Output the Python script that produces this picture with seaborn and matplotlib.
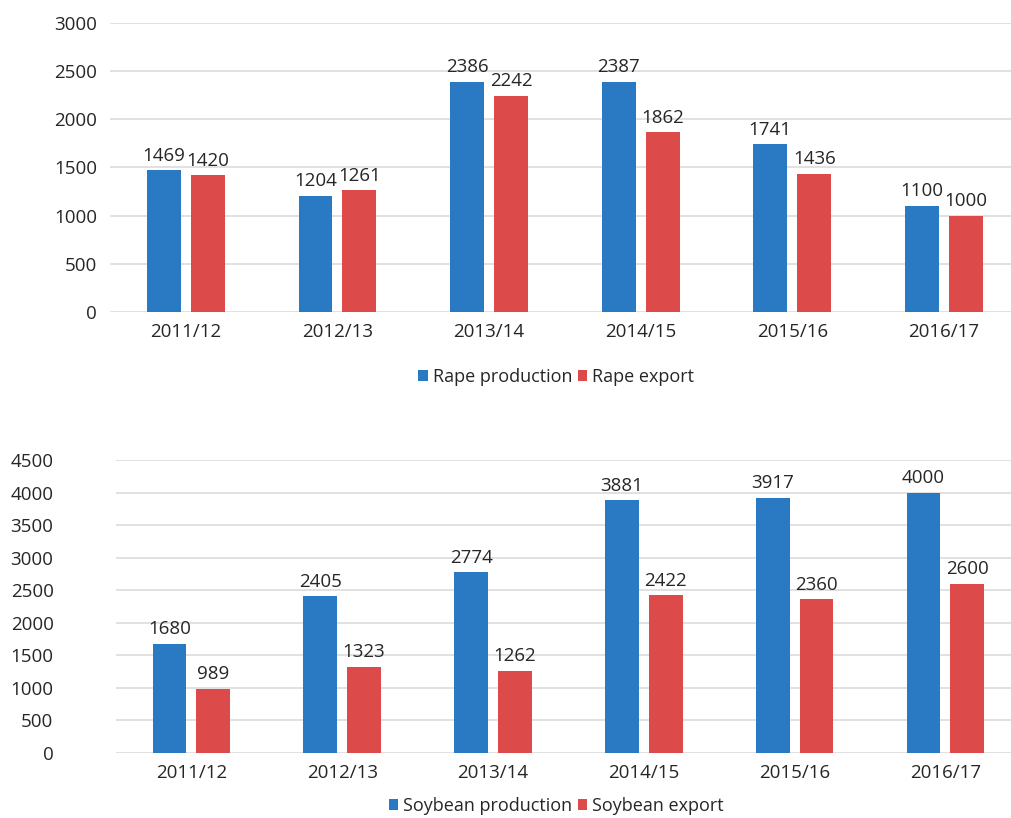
import numpy as np
import pandas as pd
import matplotlib
matplotlib.use("Agg")
import matplotlib.pyplot as plt
import seaborn as sns

# Marketing years shared by both panels
years = ["2011/12", "2012/13", "2013/14", "2014/15", "2015/16", "2016/17"]

# Rapeseed (thousand tonnes)
rape_production = [1469, 1204, 2386, 2387, 1741, 1100]
rape_export = [1420, 1261, 2242, 1862, 1436, 1000]

# Soybean (thousand tonnes)
soy_production = [1680, 2405, 2774, 3881, 3917, 4000]
soy_export = [989, 1323, 1262, 2422, 2360, 2600]

BLUE = "#2a79c3"
RED = "#dd4a4a"
TEXT = "#262626"
GRID = "#d9d9d9"
FS = 13.5

sns.set_theme(style="white")
plt.rcParams["font.family"] = ["Open Sans", "DejaVu Sans"]
plt.rcParams["font.size"] = FS


def long_frame(prod, exp, prod_name, exp_name):
    return pd.DataFrame({
        "year": years * 2,
        "value": list(prod) + list(exp),
        "series": [prod_name] * len(years) + [exp_name] * len(years),
    })


def draw_panel(ax, df, names, ymax, step, xmax, ytick_pad, legend_y):
    sns.barplot(data=df, x="year", y="value", hue="series", order=years,
                hue_order=names, palette={names[0]: BLUE, names[1]: RED},
                width=0.58, gap=0.23, saturation=1, linewidth=0, ax=ax)
    for cont in ax.containers:
        ax.bar_label(cont, fmt="%d", padding=4, fontsize=FS, color=TEXT)
    ax.set_ylim(0, ymax)
    ax.set_xlim(-0.5, xmax)
    ax.set_yticks(np.arange(0, ymax + 1, step))
    ax.yaxis.grid(True, color=GRID, linewidth=1.1)
    ax.set_axisbelow(True)
    for s in ax.spines.values():
        s.set_visible(False)
    ax.tick_params(axis="y", length=0, pad=ytick_pad, labelsize=FS, labelcolor=TEXT)
    ax.tick_params(axis="x", length=0, pad=8, labelsize=FS, labelcolor=TEXT)
    ax.set_xlabel("")
    ax.set_ylabel("")
    handles, labels = ax.get_legend_handles_labels()
    if ax.get_legend() is not None:
        ax.get_legend().remove()
    fig.legend(handles, labels, loc="center", bbox_to_anchor=(0.55, legend_y),
               ncol=2, frameon=False, fontsize=13, handlelength=0.55,
               handleheight=0.55, handletextpad=0.25, columnspacing=0.3,
               labelcolor=TEXT)


fig = plt.figure(figsize=(10.11, 8.18), dpi=100)

ax_top = fig.add_axes([110 / 1011, 1 - 312 / 818, 901 / 1011, (312 - 22.7) / 818])
ax_bot = fig.add_axes([116 / 1011, 1 - 753 / 818, 895 / 1011, (753 - 460) / 818])

draw_panel(ax_top,
           long_frame(rape_production, rape_export, "Rape production", "Rape export"),
           ["Rape production", "Rape export"], 3000, 500, 5.443, 9.5,
           1 - 377 / 818)
draw_panel(ax_bot,
           long_frame(soy_production, soy_export, "Soybean production", "Soybean export"),
           ["Soybean production", "Soybean export"], 4500, 500, 5.435, 45,
           1 - 806 / 818)

fig.savefig("out.png", dpi=100, facecolor="white")
